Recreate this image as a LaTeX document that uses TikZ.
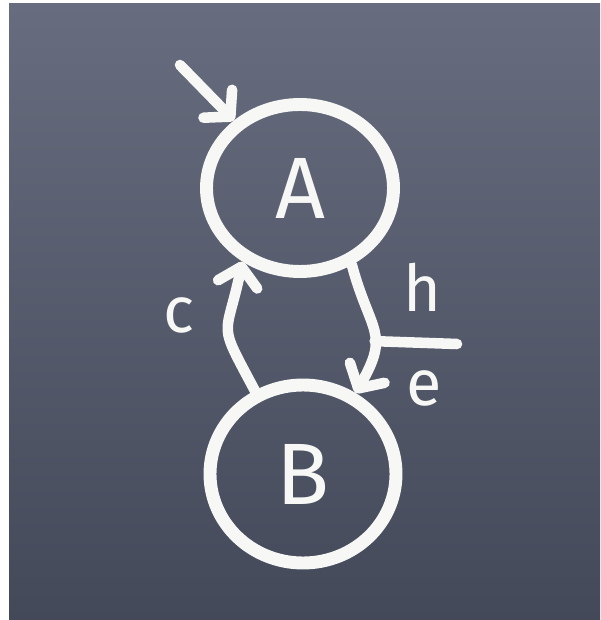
\documentclass[tikz,border=0pt]{standalone}
\usepackage{fontspec}
\setsansfont{Fira Sans}
\usepackage{tikz}
\usetikzlibrary{shapes.geometric, arrows.meta, positioning, backgrounds}

\definecolor{chalk}{HTML}{F7F7F5}
\definecolor{slatetop}{HTML}{676D7E}
\definecolor{slatebot}{HTML}{434959}

\begin{document}
\begin{tikzpicture}[
    font=\sffamily,
    >={Straight Barb[length=4.5mm, width=10mm, round]},
    state/.style={ellipse, draw=chalk, line width=9.2pt, inner sep=0pt, text=chalk, font=\sffamily\fontsize{62}{62}\selectfont},
    trans/.style={->, draw=chalk, line width=7.5pt, line cap=round, line join=round},
    tickline/.style={draw=chalk, line width=7.5pt, line cap=round},
    lbl/.style={text=chalk, inner sep=0pt, font=\sffamily\fontsize{46}{46}\selectfont}
]
\useasboundingbox (0,0) rectangle (15,15.5);

% STATES
\node[state, minimum width=4.675cm, minimum height=4.175cm] (A) at (7.5, 10.8) {A};
\node[state, minimum width=4.65cm, minimum height=4.45cm] (B) at (7.575, 3.65) {B};

% START ARROW
\coordinate (start) at (4.5, 13.875);
\draw[trans] (start) -- (A);

% TRANSITIONS
\draw[trans, out=118, in=258, looseness=1.6] (B.120) to (A.232);
\draw[trans, out=-75, in=60, looseness=1.4] (A.-56) to coordinate[pos=0.6] (tick) (B.57);

% STUB
\coordinate (stubend) at (11.425, 6.9);
\draw[tickline] (tick) -- (stubend);

% LABELS
\node[lbl] (lc) at (4.475, 7.625) {c};
\node[lbl] (lh) at (10.55, 8.325) {h};
\node[lbl] (le) at (10.6, 5.8) {e};

% BOARD
\begin{scope}[on background layer]
    \fill[white] (0,0) rectangle (15,15.5);
    \shade[top color=slatetop, bottom color=slatebot] (0.225,0) rectangle (15,15.4);
\end{scope}

\end{tikzpicture}
\end{document}
